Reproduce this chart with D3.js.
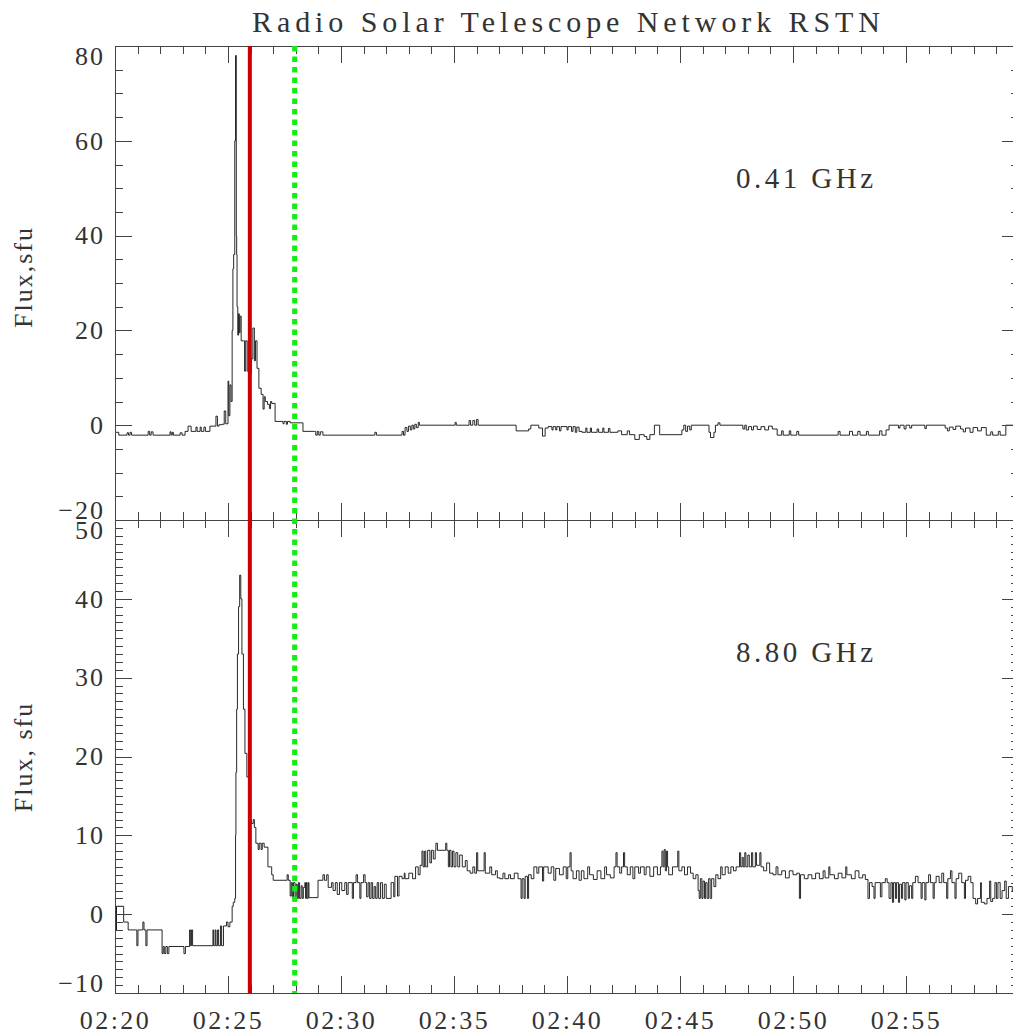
<!DOCTYPE html>
<html>
<head>
<meta charset="utf-8">
<script src="https://cdn.jsdelivr.net/npm/d3@7"></script>
<style>
body { margin: 0; background: #fff; }
text { font-family: "Liberation Serif", serif; fill: #333; }
.tick line, .domain { stroke: #444; stroke-width: 1; shape-rendering: crispEdges; }
</style>
</head>
<body>
<script>
// seconds after 02:20:00 UT, flux in sfu
var flux041 = [
[0,-1.5],[10,-2.1],[32,-1.6],[36,-2.1],[40,-1.5],[44,-2.1],[88,-1.3],[92,-2.1],[96,-1.4],[101,-2.1],
[146,-1.4],[149,-2.1],[152,-1.5],[155,-2.1],[173,-1.6],[178,-2.1],[186,-1.3],[194,-0.2],[202,-1.3],[215,-0.4],
[218,-1.3],[226,-0.4],[229,-1.3],[236,-0.4],[240,-1.3],[252,-0.2],[268,1.9],[272,-0.2],[276,0.1],[284,0.2],
[290,3],[294,0.3],[300,9.3],[302,2],[305,8.5],[308,5],[311,20],[313,33],[315,36],[318,60],[320,78],[322,40],
[323,36],[324,25],[326,19],[328,23.5],[330,19.5],[332,23],[335,17.8],[340,17.8],[344,11.4],[347,17.8],
[351,11.4],[355,10.8],[362,14],[366,20.5],[370,13.6],[373,17.8],[377,12],[382,7.8],[388,6.5],[393,3.4],
[396,6],[399,5],[405,4.4],[410,3.5],[413,5],[416,4.6],[425,0.8],[446,0.3],[449,0.8],[455,0.2],[458,0.8],
[465,0.5],[499,-1.3],[530,-1.3],[533,-2.1],[537,-1.3],[541,-2.1],[545,-1.4],[552,-2.1],[690,-1.5],[694,-2.1],
[762,-1.3],[766,-2.1],[770,-0.5],[775,-1.3],[779,-0.2],[784,-1],[788,0],[792,-0.8],[796,0.2],[800,-0.5],
[805,0.6],[808,0],[903,0.6],[906,0],[940,1],[944,0],[950,1],[955,0],[960,1.2],[964,0],[1065,-1.2],
[1098,-0.8],[1104,0],[1125,-0.6],[1135,-2.3],[1142,-0.6],[1150,-0.3],[1160,-1],[1163,-0.3],[1170,-1],
[1173,-0.3],[1180,-1.2],[1184,-0.3],[1200,-1],[1203,-0.3],[1212,-1.3],[1216,-0.3],[1222,-1.5],[1226,-0.4],
[1232,-1.3],[1240,-1.5],[1250,-0.6],[1253,-1.5],[1262,-0.6],[1265,-1.5],[1280,-0.8],[1284,-1.5],[1295,-0.6],
[1298,-1.5],[1310,-0.7],[1314,-1.5],[1335,-1.2],[1345,-2],[1360,-1.2],[1366,-2],[1380,-3],[1392,-2],
[1405,-2.4],[1412,-3],[1420,-2],[1432,0],[1446,-2],[1505,-1],[1510,0],[1515,-1.3],[1520,-0.2],[1526,-1],
[1530,0],[1577,-1.5],[1581,-2.6],[1590,-1.5],[1594,0],[1601,0.5],[1606,0],[1667,-0.8],[1672,0],[1676,-1],
[1682,-0.3],[1690,-1],[1695,-0.2],[1705,-0.9],[1715,-0.3],[1725,-1],[1735,-0.2],[1745,-0.8],[1758,-2.1],
[1770,-1.2],[1774,-2.1],[1790,-1.2],[1794,-2.1],[1810,-1.3],[1815,-2.1],[1920,-1.3],[1925,-2.1],[1950,-1.3],
[1958,-2.1],[1972,-1.3],[1978,-2.1],[1995,-1.3],[2000,-2.1],[2030,-1.2],[2036,-2.1],[2047,-1],[2055,0],
[2080,-0.6],[2084,0],[2095,-0.8],[2100,0],[2110,-0.6],[2115,0],[2150,-0.7],[2154,0],[2204,-0.6],[2210,-1.2],
[2215,-0.4],[2225,-0.9],[2232,-0.2],[2245,-0.8],[2252,-1.4],[2258,-0.6],[2270,-1.5],[2278,-0.5],[2290,-1.2],
[2300,-0.5],[2313,-2.1],[2325,-1.4],[2330,-2.1],[2345,-1.3],[2350,-2.1],[2365,0],[2400,0]
];

var flux880 = [
[0,1],[3,-2],[4,1],[23,-1],[35,-2],[58,-4],[61,-2],[74,-1],[77,-2],[82,-4],[85,-2],[125,-5],[128,-4.1],
[131,-5],[135,-4.1],[139,-5],[143,-4.1],[183,-5],[187,-4.1],[198,-2],[200,-4],[203,-2],[206,-4],[260,-2],
[262,-4],[266,-2],[268,-4],[272,-2],[275,-4],[280,-1.5],[283,-4],[288,-1.5],[296,-1],[300,-1.6],[305,-1],
[311,1],[314,1.5],[318,2],[320,10],[321,18],[323,26],[325,33],[328,39],[331,43],[334,40],[337,33],[341,26],
[345,20.4],[350,17.4],[358,17],[360,12],[362,11.5],[367,12],[370,11],[374,9],[380,8.2],[383,9],[388,8.2],
[391,9],[396,8.5],[406,6],[411,6],[416,5],[420,4.3],[457,5],[460,4.3],[465,2.3],[468,4],[471,2],[474,4],
[478,2.1],[481,3.8],[484,2],[487,4],[490,2],[494,3.6],[497,2],[500,3.4],[504,4],[506,2],[508,4],[510,2],
[513,4],[515,2.1],[539,4.3],[552,5],[556,4.3],[562,5],[566,3.4],[575,4],[579,3],[585,4],[590,2.5],[596,4],
[602,3],[610,4],[615,2.5],[619,4],[630,2],[633,4],[640,5],[644,4],[650,2],[653,4],[660,5],[664,4],[668,2.2],
[672,4],[676,2],[680,4],[684,2],[688,3.5],[692,2],[696,4],[700,2],[705,4],[710,2],[715,3.8],[720,2],
[733,4],[740,2.2],[743,4.8],[750,2.3],[754,4.8],[762,4.5],[768,5.2],[770,4.5],[780,5.2],[790,4.5],[798,6],
[805,5],[810,6.2],[815,8],[818,6],[822,8],[825,6],[830,8.1],[836,6.5],[840,8.1],[845,7],[850,8.1],[852,9],
[856,8.1],[878,9],[881,8.1],[885,6],[888,8.1],[892,6],[896,8],[900,6],[905,7.8],[910,6],[915,7.5],[922,6],
[930,6.8],[935,5.5],[943,5.2],[950,6],[955,5.2],[960,7.8],[963,5.5],[980,7.8],[983,5.2],[995,6],[1000,5],
[1010,5.5],[1015,4.6],[1022,4.5],[1030,5.2],[1035,4.5],[1045,5],[1050,4.5],[1060,5.2],[1070,4.5],[1078,2],
[1081,4.5],[1086,2],[1089,4.8],[1095,2],[1098,5],[1105,4.5],[1112,6],[1120,5.2],[1125,6],[1135,4.2],
[1138,6],[1150,5.2],[1158,6],[1165,4.3],[1170,5.8],[1180,5],[1190,6],[1198,4.5],[1202,6],[1208,7.8],
[1211,5.5],[1216,4.5],[1225,5.5],[1232,4.3],[1238,5.5],[1245,4.5],[1255,6],[1260,5],[1270,4.4],[1280,5.5],
[1290,4.5],[1300,6],[1305,5],[1315,4.6],[1325,6],[1330,7.8],[1333,6],[1340,5.2],[1345,6],[1350,7.8],
[1353,6],[1360,5],[1368,6],[1375,4.5],[1380,6],[1390,5.2],[1395,6],[1405,5],[1410,6],[1420,4.8],[1430,6],
[1440,5],[1448,6],[1452,8],[1455,6],[1458,8.2],[1461,5.5],[1464,8],[1467,6],[1470,5],[1480,6],[1494,8],
[1497,5.5],[1505,6],[1512,5],[1520,6],[1528,5.2],[1535,4.5],[1542,5],[1548,3],[1551,2],[1554,4.5],[1558,2],
[1561,4.2],[1565,2],[1568,4],[1572,2],[1576,4.5],[1580,2],[1584,4.5],[1590,3.5],[1595,5],[1601,4.5],
[1608,6],[1612,5],[1620,6],[1628,5.2],[1635,6],[1642,5.5],[1649,6],[1658,7.8],[1661,6],[1665,7.2],[1668,6],
[1672,7.8],[1675,6],[1680,7.5],[1684,6],[1690,7.8],[1693,6],[1700,7.8],[1703,6.2],[1712,7.8],[1715,6],
[1722,5.5],[1730,6.5],[1738,5.2],[1747,5],[1755,6],[1760,5],[1770,5.5],[1780,4.6],[1790,5.5],[1800,5],
[1810,5.2],[1817,2],[1820,5],[1830,4.5],[1840,5],[1850,4.5],[1860,5.2],[1870,4.5],[1880,5.5],[1885,4.6],
[1895,6],[1898,5],[1910,4.5],[1920,5.2],[1930,4.6],[1940,6],[1943,5],[1955,4.5],[1965,5.5],[1975,4.6],
[1985,5],[1992,4.4],[1999,2],[2003,4],[2010,3.5],[2015,2],[2018,4],[2028,4],[2032,2.2],[2036,4],[2045,4.5],
[2050,4],[2055,2],[2060,4],[2064,1.5],[2067,4],[2072,2],[2075,4],[2080,1.5],[2083,3.8],[2088,2],[2091,4],
[2097,1.8],[2100,4],[2106,2],[2109,3.6],[2115,2],[2118,4],[2125,4.8],[2132,4],[2140,2],[2143,4],[2150,1.8],
[2153,4],[2160,5],[2165,4],[2172,2],[2175,4],[2180,4.8],[2188,4],[2195,5.2],[2200,4],[2208,2],[2211,4.5],
[2218,5.5],[2222,4],[2230,2],[2233,4.5],[2240,5.2],[2248,4],[2255,2],[2258,4.3],[2265,4.8],[2272,4],
[2278,2],[2285,1.3],[2290,2],[2298,4],[2300,1.5],[2308,1.3],[2315,2],[2322,4.2],[2325,1.6],[2330,2],
[2336,4],[2340,2],[2344,4],[2350,2],[2355,3],[2362,4.2],[2366,2],[2372,3.5],[2382,3],[2400,3]
];

var yTicksTop = [-20, 0, 20, 40, 60, 80];
var yTicksBot = [-10, 0, 10, 20, 30, 40, 50];
var xTickLabels = ["02:20", "02:25", "02:30", "02:35", "02:40", "02:45", "02:50", "02:55"];
var markerTimes = [358, 477];   // red solid, green dotted (s after 02:20)

var width = 1013, height = 1034;

var svg = d3.select("body").append("svg")
	.attr("width", width)
	.attr("height", height);

var t0 = new Date(2000, 0, 1, 2, 20, 0);
function at(s){ return new Date(t0.getTime() + s * 1000); }

var x = d3.scaleTime()
	.domain([t0, at(2400)])
	.range([115, 1019]);

var yTop = d3.scaleLinear().domain([-20, 80]).range([520, 46]);
var yBot = d3.scaleLinear().domain([-10, 50]).range([993, 520]);

var xMinor = d3.timeMinute.range(t0, at(2401));
var xMajor = d3.timeMinute.every(5).range(t0, at(2401));
var fmtTime = d3.timeFormat("%H:%M");

function fmtY(d){ return d < 0 ? "\u2212" + Math.abs(d) : d; }

function traceLine(y){
	return d3.line()
		.x(function(d){ return x(at(d[0])); })
		.y(function(d){ return y(d[1]); })
		.curve(d3.curveStepAfter);
}

// flux traces
svg.append("path").datum(flux041)
	.attr("d", traceLine(yTop))
	.attr("fill", "none").attr("stroke", "#111").attr("stroke-width", 0.9);
svg.append("path").datum(flux880)
	.attr("d", traceLine(yBot))
	.attr("fill", "none").attr("stroke", "#111").attr("stroke-width", 0.9);

// axes for one panel
function frame(y, majors, minorStep, labelX){
	var dom = y.domain();
	var minors = d3.range(dom[0], dom[1] + 0.001, minorStep);
	var top = y.range()[1], bottom = y.range()[0];

	svg.append("g").attr("transform", "translate(115,0)")
		.call(d3.axisLeft(y).tickValues(minors).tickSize(-8).tickSizeOuter(0).tickFormat(""));
	var left = svg.append("g").attr("transform", "translate(115,0)")
		.call(d3.axisLeft(y).tickValues(majors).tickSize(-17).tickSizeOuter(0).tickPadding(10).tickFormat(fmtY));
	left.selectAll("text")
		.attr("font-size", 26)
		.attr("letter-spacing", 2)
		.attr("font-family", "Liberation Serif")
		.attr("fill", "#333")
		.attr("dy", function(d){
			if (d === dom[1]) return "0.7em";
			if (d === dom[0]) return "-0.05em";
			return "0.32em";
		});

	svg.append("g").attr("transform", "translate(1019,0)")
		.call(d3.axisRight(y).tickValues(minors).tickSize(-8).tickSizeOuter(0).tickFormat(""));
	svg.append("g").attr("transform", "translate(1019,0)")
		.call(d3.axisRight(y).tickValues(majors).tickSize(-17).tickSizeOuter(0).tickFormat(""));

	svg.append("g").attr("transform", "translate(0," + top + ")")
		.call(d3.axisTop(x).tickValues(xMinor).tickSize(-8).tickSizeOuter(0).tickFormat(""));
	svg.append("g").attr("transform", "translate(0," + top + ")")
		.call(d3.axisTop(x).tickValues(xMajor).tickSize(-17).tickSizeOuter(0).tickFormat(""));

	svg.append("g").attr("transform", "translate(0," + bottom + ")")
		.call(d3.axisBottom(x).tickValues(xMinor).tickSize(-8).tickSizeOuter(0).tickFormat(""));
	var bx = svg.append("g").attr("transform", "translate(0," + bottom + ")")
		.call(d3.axisBottom(x).tickValues(xMajor).tickSize(-17).tickSizeOuter(0).tickPadding(18)
			.tickFormat(function(d){
				var s = fmtTime(d);
				return labelX && xTickLabels.indexOf(s) >= 0 ? s : "";
			}));
	bx.selectAll("text")
		.attr("font-size", 26)
		.attr("letter-spacing", 2.5)
		.attr("font-family", "Liberation Serif")
		.attr("fill", "#333");
}

frame(yTop, yTicksTop, 5, false);
frame(yBot, yTicksBot, 1, true);

// event markers
svg.append("line")
	.attr("x1", x(at(markerTimes[0]))).attr("x2", x(at(markerTimes[0])))
	.attr("y1", 46).attr("y2", 993)
	.attr("stroke", "#cc0000").attr("stroke-width", 4);
svg.append("line")
	.attr("x1", x(at(markerTimes[1]))).attr("x2", x(at(markerTimes[1])))
	.attr("y1", 46).attr("y2", 993)
	.attr("stroke", "#11ee11").attr("stroke-width", 5)
	.attr("stroke-dasharray", "5.5,5");

// texts
svg.append("text")
	.attr("x", 252).attr("y", 32)
	.attr("font-size", 30)
	.attr("textLength", 628).attr("lengthAdjust", "spacing")
	.text("Radio Solar Telescope Network RSTN");

svg.append("text")
	.attr("x", 736).attr("y", 188)
	.attr("font-size", 29)
	.attr("textLength", 137).attr("lengthAdjust", "spacing")
	.text("0.41 GHz");
svg.append("text")
	.attr("x", 736).attr("y", 662)
	.attr("font-size", 29)
	.attr("textLength", 137).attr("lengthAdjust", "spacing")
	.text("8.80 GHz");

svg.append("text")
	.attr("transform", "translate(32,277) rotate(-90)")
	.attr("text-anchor", "middle")
	.attr("font-size", 26).attr("letter-spacing", 2)
	.text("Flux,sfu");
svg.append("text")
	.attr("transform", "translate(32,757) rotate(-90)")
	.attr("text-anchor", "middle")
	.attr("font-size", 26).attr("letter-spacing", 2)
	.text("Flux, sfu");
</script>
</body>
</html>
